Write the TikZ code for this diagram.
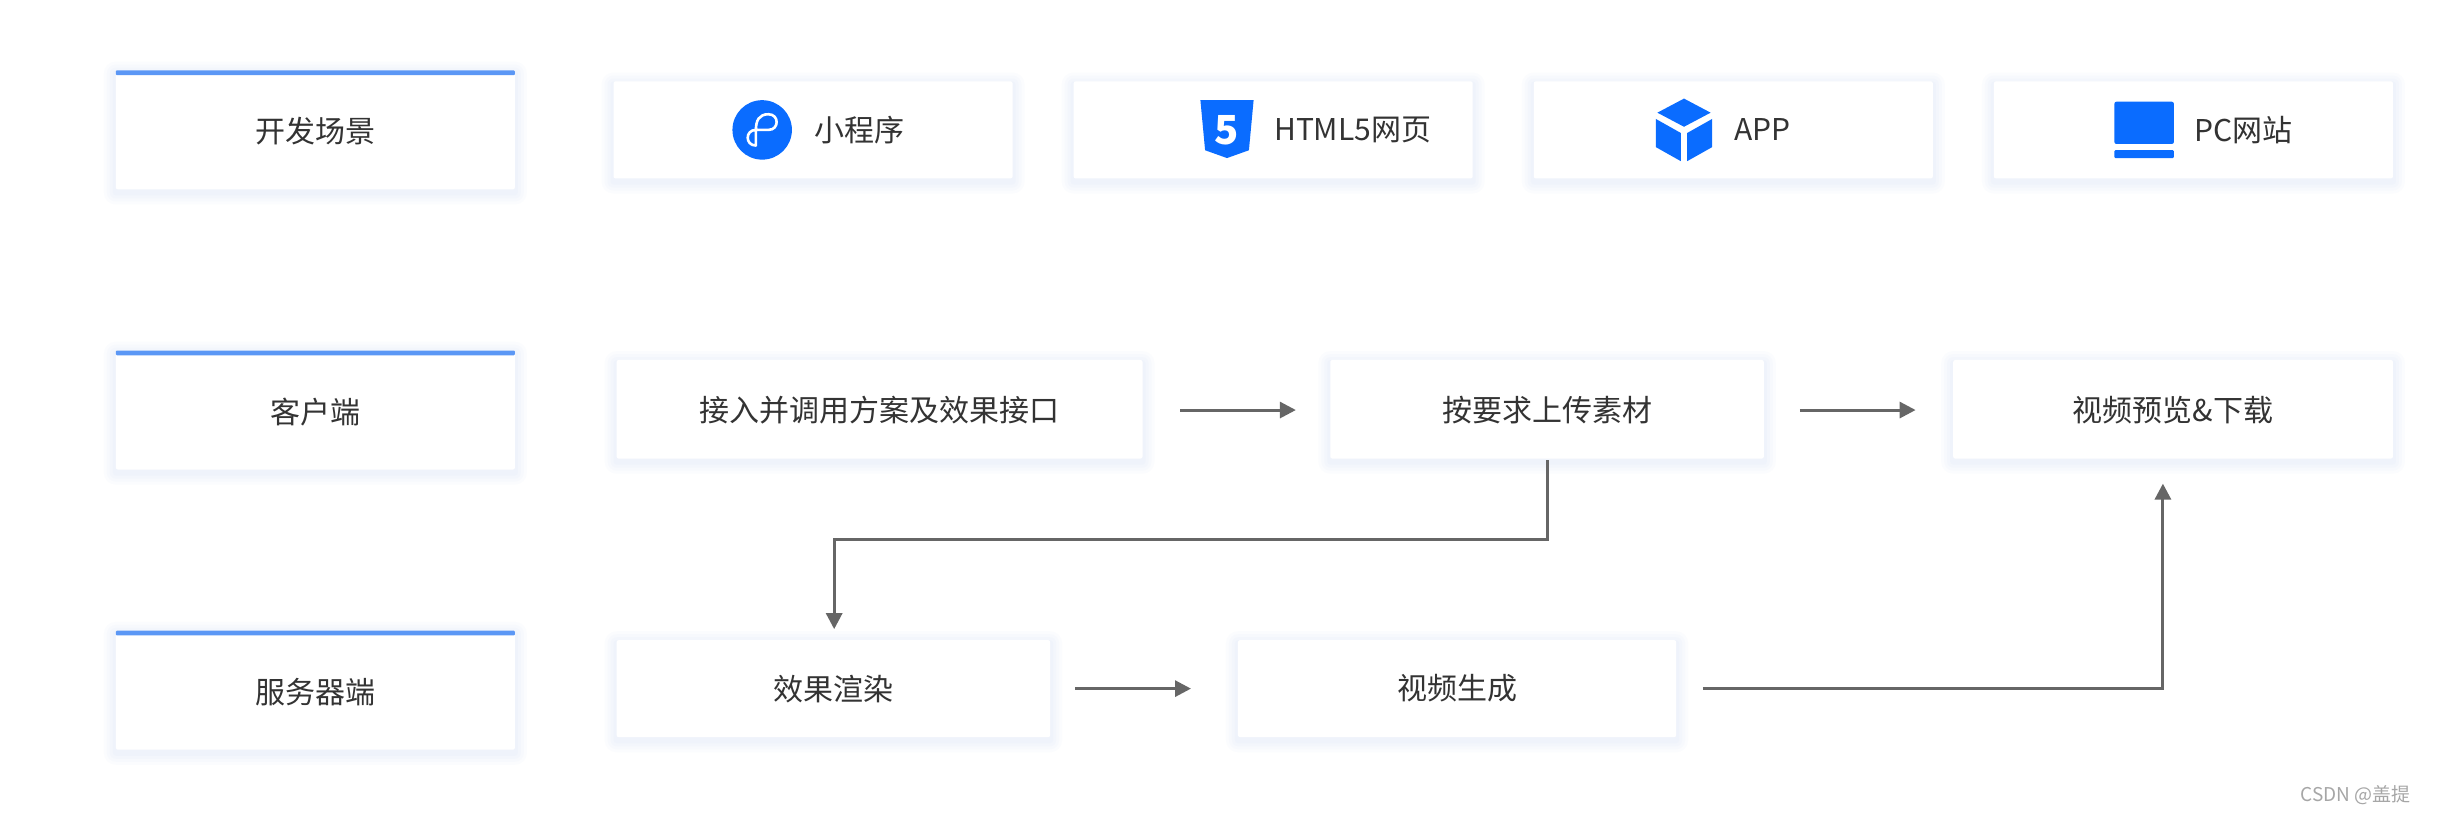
\documentclass[tikz,border=0pt]{standalone}
\usepackage{fontspec}
\setmainfont{Noto Sans CJK SC}
\usetikzlibrary{arrows.meta}
\definecolor{bl}{HTML}{0A6CFF}
\definecolor{bar}{HTML}{5B97F5}
\definecolor{tx}{HTML}{333333}
\definecolor{ar}{HTML}{666666}
\definecolor{sh}{HTML}{9DB8F0}
\newcommand{\shbox}[4]{%
 \foreach \k in {12,9,6,3}{\fill[sh,opacity=0.035,rounded corners=\k pt] (#1-\k/1.565,#2-\k/1.565+2) rectangle (#3+\k/1.565,#4+\k/1.565+2);}
 \fill[white,rounded corners=2pt] (#1,#2) rectangle (#3,#4);}
\tikzset{
 lbl/.style={text=tx,font=\fontsize{30}{34}\selectfont,inner sep=0pt},
 arr/.style={draw=ar,line width=3pt,-{Triangle[length=16pt,width=16pt]}},
}
\begin{document}
\begin{tikzpicture}[x=1.565pt,y=-1.565pt]
\useasboundingbox[fill=white] (0,0) rectangle (1568,521.4);
\foreach \n/\y/\t in {L1/45/开发场景,L2/224/客户端,L3/403/服务器端}{
 \shbox{74}{\y}{329}{\y+76}
 \fill[bar,rounded corners=1pt] (74,\y) rectangle (329,\y+3);
 \node[lbl] (\n) at (201.5,\y+39) {\t};
}
\foreach \x in {392,686,980,1274}{\shbox{\x}{52}{\x+255}{114}}
\node[lbl,anchor=west] (t1) at (520,83) {小程序};
\node[lbl,anchor=west] (t2) at (814,83) {HTML5网页};
\node[lbl,anchor=west] (t3) at (1108,83) {APP};
\node[lbl,anchor=west] (t4) at (1402,83) {PC网站};
\fill[bl] (487,83) circle (19);
\draw[white,line width=2.6pt,line cap=round] (483,93) .. controls (476,93) and (476,83) .. (483,83) -- (491,83) .. controls (498,83) and (498,73) .. (491,73) .. controls (485,73) and (483,77) .. (483,83) -- (483,93);
\fill[bl] (767,64) -- (801,64) -- (798,96) -- (784,101) -- (770,96) -- cycle;
\node[white,font=\bfseries\fontsize{40}{40}\selectfont,inner sep=0pt] (h5) at (784,83) {5};
\fill[bl] (1076,63) -- (1093,72) -- (1076,81) -- (1059,72) -- cycle;
\fill[bl] (1058,76) -- (1074,85) -- (1074,103) -- (1058,94) -- cycle;
\fill[bl] (1094,76) -- (1078,85) -- (1078,103) -- (1094,94) -- cycle;
\fill[bl,rounded corners=2pt] (1351,65) rectangle (1389,92);
\fill[bl,rounded corners=1pt] (1351,96) rectangle (1389,101);
\shbox{394}{230}{730}{293}
\shbox{850}{230}{1127}{293}
\shbox{1248}{230}{1529}{293}
\node[lbl] (a1) at (562,262) {接入并调用方案及效果接口};
\node[lbl] (a2) at (988.5,262) {按要求上传素材};
\node[lbl] (a3) at (1388.5,262) {视频预览\&下载};
\shbox{394}{409}{671}{471}
\shbox{791}{409}{1071}{471}
\node[lbl] (b1) at (532.5,440) {效果渲染};
\node[lbl] (b2) at (931,440) {视频生成};
\coordinate (p1) at (754,262); \coordinate (q1) at (828,262);
\coordinate (p2) at (1150,262); \coordinate (q2) at (1224,262);
\coordinate (p3) at (989,294); \coordinate (q3) at (533,402);
\coordinate (p4) at (687,440); \coordinate (q4) at (761,440);
\coordinate (p5) at (1088,440); \coordinate (q5) at (1382,309);
\draw[arr] (p1) -- (q1);
\draw[arr] (p2) -- (q2);
\draw[arr] (p3) -- (989,345) -- (533,345) -- (q3);
\draw[arr] (p4) -- (q4);
\draw[arr] (p5) -- (1382,440) -- (q5);
\node[text=gray!70,font=\fontsize{19}{19}\selectfont,anchor=north west,inner sep=0pt] (wm) at (1470,502) {CSDN @盖提};
\end{tikzpicture}
\end{document}
